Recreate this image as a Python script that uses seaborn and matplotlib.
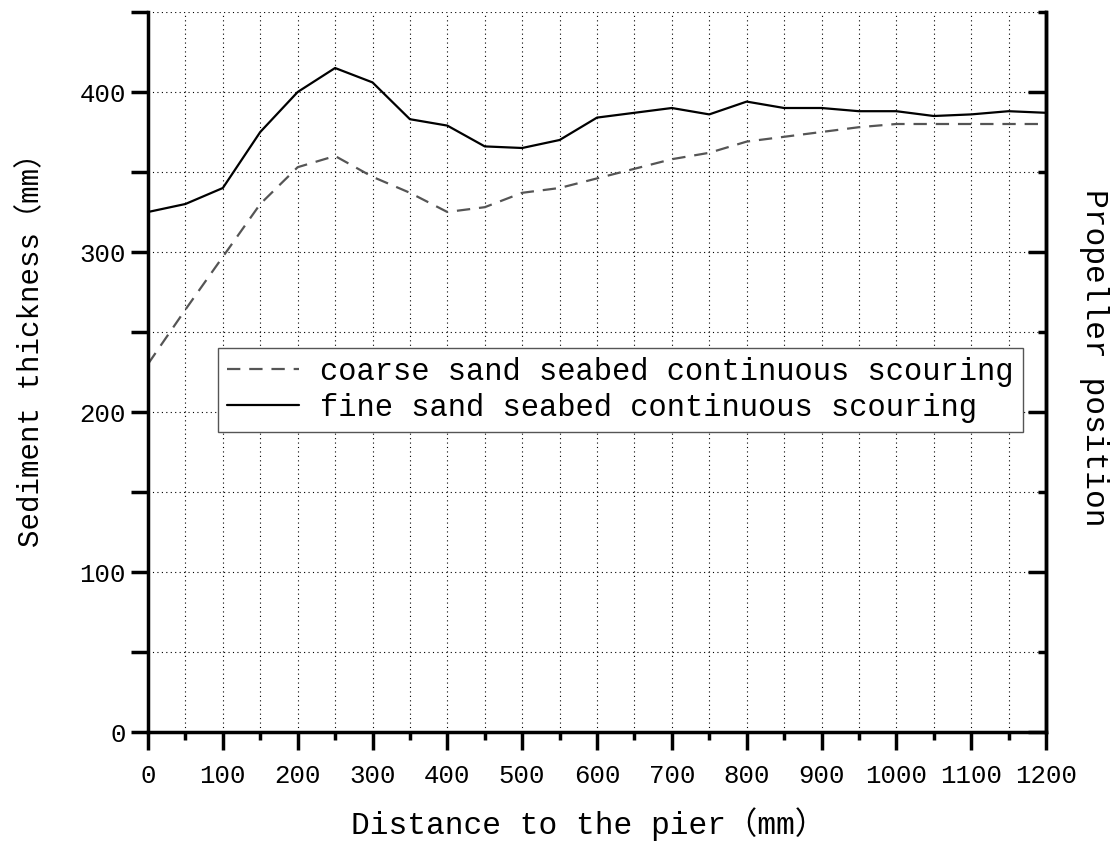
import numpy as np
import pandas as pd
import matplotlib
matplotlib.use("Agg")
import matplotlib.pyplot as plt
from matplotlib.ticker import MultipleLocator
import seaborn as sns

distance = [0, 50, 100, 150, 200, 250, 300, 350, 400, 450, 500, 550, 600,
            650, 700, 750, 800, 850, 900, 950, 1000, 1050, 1100, 1150, 1200]
coarse = [230, 264, 297, 330, 353, 360, 347, 337, 325, 328, 337, 340, 346,
          352, 358, 362, 369, 372, 375, 378, 380, 380, 380, 380, 380]
fine = [325, 330, 340, 375, 400, 415, 406, 383, 379, 366, 365, 370, 384,
        387, 390, 386, 394, 390, 390, 388, 388, 385, 386, 388, 387]
labels = ["coarse sand seabed continuous scouring",
          "fine sand seabed continuous scouring"]

sns.set_theme(style="white")
FAM = ["Liberation Mono", "Noto Sans CJK SC", "DejaVu Sans"]
plt.rcParams["font.family"] = FAM
plt.rcParams["text.color"] = "black"
plt.rcParams["axes.labelcolor"] = "black"
plt.rcParams["xtick.color"] = "black"
plt.rcParams["ytick.color"] = "black"

fig = plt.figure(figsize=(11.2, 8.43), dpi=100)
ax = fig.add_axes([148/1120, 111/843, 898/1120, 720/843])

df = pd.DataFrame({"d": distance, "coarse": coarse, "fine": fine})
sns.lineplot(data=df, x="d", y="coarse", ax=ax, color="#555555", lw=1.6,
             label=labels[0])
ax.lines[-1].set_linestyle((0, (6, 4)))
sns.lineplot(data=df, x="d", y="fine", ax=ax, color="black", lw=1.6,
             label=labels[1])

ax.set_xlim(0, 1200)
ax.set_ylim(0, 450)
ax.xaxis.set_major_locator(MultipleLocator(100))
ax.xaxis.set_minor_locator(MultipleLocator(50))
ax.yaxis.set_major_locator(MultipleLocator(100))
ax.yaxis.set_minor_locator(MultipleLocator(50))
ax.grid(True, which="both", color="black", linestyle=(0, (1, 3)), linewidth=0.8)
ax.set_axisbelow(True)

for s in ["left", "bottom", "right"]:
    ax.spines[s].set_visible(True)
    ax.spines[s].set_color("black")
    ax.spines[s].set_linewidth(2.5)
ax.spines["top"].set_visible(False)

ax.tick_params(axis="x", which="major", direction="out", length=13, width=2.5,
               labelsize=18.5, pad=10, bottom=True)
ax.tick_params(axis="x", which="minor", direction="out", length=6, width=2.5,
               bottom=True)
ax.tick_params(axis="y", which="both", direction="out", length=12, width=2.5,
               labelsize=18.5, left=True, pad=4)

ax2 = ax.twinx()
ax2.set_ylim(0, 450)
ax2.yaxis.set_major_locator(MultipleLocator(100))
ax2.yaxis.set_minor_locator(MultipleLocator(50))
ax2.tick_params(axis="y", which="major", direction="in", length=13, width=2.5,
                right=True, labelright=False)
ax2.tick_params(axis="y", which="minor", direction="in", length=6, width=2.5,
                right=True)
for s in ["left", "bottom", "top"]:
    ax2.spines[s].set_visible(False)
ax2.spines["right"].set_linewidth(2.5)
ax2.spines["right"].set_color("black")
ax2.set_ylabel("Propeller position", fontsize=22.5, rotation=270)
ax2.yaxis.set_label_coords(1.07, 0.52)

ax.set_xlabel("Distance to the pier（mm）", fontsize=22.5)
ax.xaxis.set_label_coords(0.49, -0.105)
ax.set_ylabel("Sediment thickness（mm）", fontsize=21)
ax.yaxis.set_label_coords(-0.115, 0.54)

leg = ax.legend(loc="lower left", bbox_to_anchor=(0.078, 0.4167),
                fontsize=22, frameon=True, fancybox=False, framealpha=1,
                edgecolor="#555555", borderpad=0.3, handlelength=2.35,
                handletextpad=0.7, labelspacing=0.2, borderaxespad=0)
leg.get_frame().set_linewidth(1.0)

fig.savefig("out.png", dpi=100)
